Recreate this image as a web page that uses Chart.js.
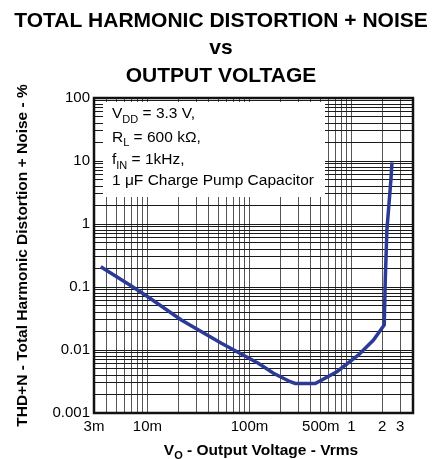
<!DOCTYPE html>
<html>
<head>
<meta charset="utf-8">
<script src="https://cdn.jsdelivr.net/npm/chart.js@4.4.0/dist/chart.umd.min.js"></script>
<style>
  body { margin: 0; background: #fff; }
  #wrap { width: 433px; height: 459px; }
</style>
</head>
<body>
<div id="wrap"><canvas id="thdChart" width="433" height="459"></canvas></div>
<script>
// curve: output voltage (Vrms) vs THD+N (%)
const vOut = [0.00349, 0.00697, 0.0101, 0.0215, 0.0531, 0.122, 0.172, 0.251, 0.281, 0.441, 0.718, 1.17, 1.64, 2.09, 2.14, 2.22, 2.43, 2.49];
const thdN = [0.21, 0.104, 0.070, 0.030, 0.0128, 0.00615, 0.00427, 0.00314, 0.00294, 0.00294, 0.00453, 0.00834, 0.0144, 0.0249, 0.129, 0.80, 5.0, 9.5];

// labelled ticks
const xLabelValues = [0.003, 0.01, 0.1, 0.5, 1, 2, 3];
const xLabelText = ['3m', '10m', '100m', '500m', '1', '2', '3'];
const yLabelValues = [0.001, 0.01, 0.1, 1, 10, 100];
const yLabelText = ['0.001', '0.01', '0.1', '1', '10', '100'];

const titleLines = ['TOTAL HARMONIC DISTORTION + NOISE', 'vs', 'OUTPUT VOLTAGE'];
const yTitle = 'THD+N - Total Harmonic Distortion + Noise - %';
// [text, isSubscript]
const xTitle = [['V', 0], ['O', 1], [' - Output Voltage - Vrms', 0]];
const noteLines = [
    [['V', 0], ['DD', 1], [' = 3.3 V,', 0]],
    [['R', 0], ['L', 1], [' = 600 k\u03A9,', 0]],
    [['f', 0], ['IN', 1], [' = 1kHz,', 0]],
    [['1 \u03BCF Charge Pump Capacitor', 0]]
];

const FONT = "'Liberation Sans', Arial, sans-serif";

// 1..9 x each decade, for the log grid
function logGrid(lo, hi) {
    let out = [];
    for (let d = Math.floor(Math.log10(lo)); d <= Math.ceil(Math.log10(hi)); d++) {
        for (let m = 1; m < 10; m++) {
            let v = Number((m * Math.pow(10, d)).toPrecision(3));
            if (v >= lo - 1e-12 && v <= hi + 1e-9) out.push(v);
        }
    }
    return out;
}

function labelFor(values, texts, value) {
    let i = values.findIndex(function (v) { return Math.abs(v - value) / v < 1e-6; });
    return i >= 0 ? texts[i] : '';
}

function drawRich(ctx, parts, x, y, size, subSize, subDrop, weight) {
    let cx = x;
    parts.forEach(function (p) {
        ctx.font = weight + ' ' + (p[1] ? subSize : size) + 'px ' + FONT;
        ctx.fillText(p[0], cx, p[1] ? y + subDrop : y);
        cx += ctx.measureText(p[0]).width;
    });
}

function richWidth(ctx, parts, size, subSize, weight) {
    let w = 0;
    parts.forEach(function (p) {
        ctx.font = weight + ' ' + (p[1] ? subSize : size) + 'px ' + FONT;
        w += ctx.measureText(p[0]).width;
    });
    return w;
}

const titlePlugin = {
    id: 'titleBlock',
    afterDraw: function (chart) {
        let ctx = chart.ctx;
        ctx.save();
        ctx.fillStyle = '#000';
        ctx.textAlign = 'center';
        ctx.textBaseline = 'alphabetic';
        ctx.font = 'bold 21px ' + FONT;
        let baselines = [27, 54, 82];
        titleLines.forEach(function (t, i) {
            ctx.fillText(t, 221, baselines[i]);
        });
        // x axis title with subscript
        ctx.textAlign = 'left';
        let w = richWidth(ctx, xTitle, 15.5, 11, 'bold');
        drawRich(ctx, xTitle, 261 - w / 2, 455, 15.5, 11, 4, 'bold');
        ctx.restore();
    }
};

const notePlugin = {
    id: 'noteBox',
    beforeDatasetsDraw: function (chart) {
        let ctx = chart.ctx;
        let a = chart.chartArea;
        ctx.save();
        ctx.fillStyle = '#fff';
        ctx.fillRect(a.left + 9, a.top + 4, 325 - (a.left + 9), 197 - (a.top + 4));
        ctx.fillStyle = '#000';
        ctx.textBaseline = 'alphabetic';
        ctx.textAlign = 'left';
        let offs = [20, 43.5, 66, 87];
        noteLines.forEach(function (line, i) {
            drawRich(ctx, line, a.left + 18, a.top + offs[i], 15.5, 11, 4.5, 'normal');
        });
        ctx.restore();
    }
};

const framePlugin = {
    id: 'frame',
    afterDatasetsDraw: function (chart) {
        let ctx = chart.ctx;
        let a = chart.chartArea;
        ctx.save();
        ctx.strokeStyle = '#111';
        ctx.lineWidth = 2.5;
        ctx.strokeRect(a.left, a.top, a.right - a.left, a.bottom - a.top);
        ctx.restore();
    }
};

const xGrid = logGrid(0.003, 4);
const yGrid = logGrid(0.001, 100);

const points = vOut.map(function (v, i) { return {x: v, y: thdN[i]}; });

new Chart(document.getElementById('thdChart'), {
    type: 'line',
    data: {
        datasets: [{
            data: points,
            borderColor: '#2b3a96',
            borderWidth: 3.5,
            pointRadius: 0,
            tension: 0,
            fill: false
        }]
    },
    options: {
        responsive: false,
        animation: false,
        devicePixelRatio: 1,
        layout: { padding: { top: 98, right: 20, bottom: 0, left: 0 } },
        plugins: {
            legend: { display: false },
            tooltip: { enabled: false },
            title: { display: false }
        },
        scales: {
            x: {
                type: 'logarithmic',
                min: 0.003,
                max: 4,
                border: { display: false },
                grid: { color: '#555', lineWidth: 1, drawTicks: false },
                ticks: {
                    autoSkip: false,
                    maxRotation: 0,
                    padding: 5,
                    color: '#000',
                    font: { family: FONT, size: 15 },
                    callback: function (value) { return labelFor(xLabelValues, xLabelText, value); }
                },
                afterBuildTicks: function (scale) {
                    scale.ticks = xGrid.map(function (v) { return {value: v}; });
                },
                afterFit: function (scale) {
                    scale.height = 46;
                    scale.paddingLeft = 0;
                    scale.paddingRight = 0;
                }
            },
            y: {
                type: 'logarithmic',
                min: 0.001,
                max: 100,
                border: { display: false },
                grid: { color: '#1a1a1a', lineWidth: 1, drawTicks: false },
                ticks: {
                    autoSkip: false,
                    padding: 4,
                    color: '#000',
                    font: { family: FONT, size: 15 },
                    callback: function (value) { return labelFor(yLabelValues, yLabelText, value); }
                },
                title: {
                    display: true,
                    text: yTitle,
                    color: '#000',
                    font: { family: FONT, size: 15.5, weight: 'bold', lineHeight: 1.2 },
                    padding: { top: 13, bottom: 0 }
                },
                afterBuildTicks: function (scale) {
                    scale.ticks = yGrid.map(function (v) { return {value: v}; });
                },
                afterFit: function (scale) {
                    scale.width = 94;
                    scale.paddingTop = 0;
                    scale.paddingBottom = 0;
                }
            }
        }
    },
    plugins: [notePlugin, framePlugin, titlePlugin]
});
</script>
</body>
</html>
